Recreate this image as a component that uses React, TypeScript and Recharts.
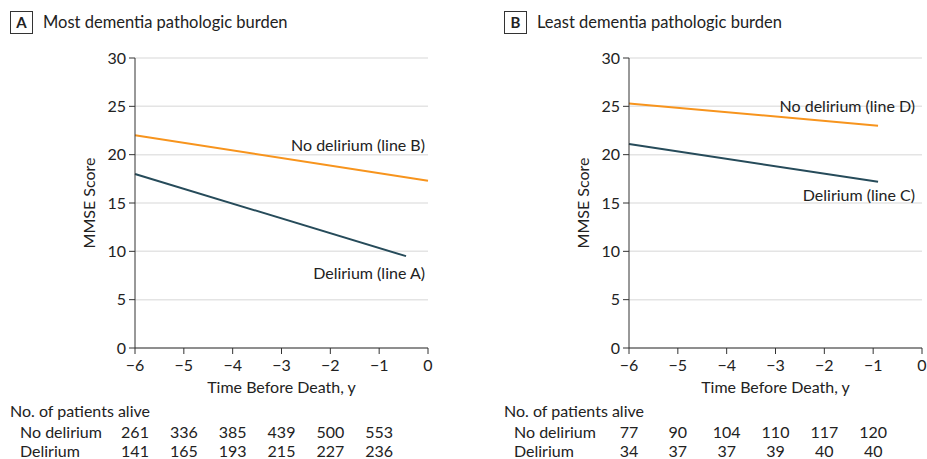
import React from 'react';
import { LineChart, Line, XAxis, YAxis, CartesianGrid } from 'recharts';

// x values (years before death)
const timeTicks = [-6, -5, -4, -3, -2, -1, 0];
const tableTicks = [-6, -5, -4, -3, -2, -1];
const scoreTicks = [0, 5, 10, 15, 20, 25, 30];

// Panel A: most dementia pathologic burden
const noDeliriumA = [{ t: -6, v: 22 }, { t: 0, v: 17.3 }];
const deliriumA = [{ t: -6, v: 18 }, { t: -0.45, v: 9.5 }];
const aliveNoDeliriumA = [261, 336, 385, 439, 500, 553];
const aliveDeliriumA = [141, 165, 193, 215, 227, 236];

// Panel B: least dementia pathologic burden
const noDeliriumB = [{ t: -6, v: 25.3 }, { t: -0.9, v: 23.0 }];
const deliriumB = [{ t: -6, v: 21.1 }, { t: -0.9, v: 17.2 }];
const aliveNoDeliriumB = [77, 90, 104, 110, 117, 120];
const aliveDeliriumB = [34, 37, 37, 39, 40, 40];

const ORANGE = '#f7941d';
const TEAL = '#264b5a';
const FONT = 'Lato, sans-serif';
const TEXT = '#222';
const FS = 16;

const endLabel = (text: string, last: number, dx: number, dy: number) => (props: any) => {
  if (props.index !== last) return null;
  return (
    <text x={props.x + dx} y={props.y + dy} textAnchor="end" dominantBaseline="central"
      fontSize={FS} fill={TEXT} fontFamily={FONT}>
      {text}
    </text>
  );
};

// x tick label plus the two "patients alive" counts under it
const TimeTick = (aliveNo: number[], aliveDel: number[]) => (props: any) => {
  const { x, y, payload } = props;
  const i = tableTicks.indexOf(payload.value);
  const common = { x, textAnchor: 'middle' as const, fontSize: FS, fill: TEXT, fontFamily: FONT };
  return (
    <g>
      <text {...common} y={y + 15}>{payload.value < 0 ? `\u2212${-payload.value}` : payload.value}</text>
      {i >= 0 && <text {...common} y={y + 82}>{aliveNo[i]}</text>}
      {i >= 0 && <text {...common} y={y + 101}>{aliveDel[i]}</text>}
    </g>
  );
};

type PanelProps = {
  letter: string;
  title: string;
  left: number;
  width: number;
  noDel: { t: number; v: number }[];
  del: { t: number; v: number }[];
  aliveNo: number[];
  aliveDel: number[];
  noDelLabel: string;
  delLabel: string;
  noDelOff: [number, number];
  delOff: [number, number];
};

function Panel(p: PanelProps) {
  const tickStyle = { fontSize: FS, fill: TEXT, fontFamily: FONT };
  const row = (top: number, left: number, text: string) => (
    <div style={{ position: 'absolute', left, top, fontSize: FS, lineHeight: '20px', whiteSpace: 'nowrap' }}>{text}</div>
  );
  return (
    <div style={{ position: 'absolute', left: p.left, top: 0, width: p.width, height: 459, fontFamily: FONT, color: TEXT }}>
      <div style={{ position: 'absolute', left: 10, top: 11, width: 21, height: 21, border: '1px solid #333',
        fontWeight: 700, fontSize: 15, textAlign: 'center', lineHeight: '21px' }}>{p.letter}</div>
      <div style={{ position: 'absolute', left: 43, top: 11, fontSize: 16.5, lineHeight: '22px', whiteSpace: 'nowrap' }}>{p.title}</div>
      {row(401, 10, 'No. of patients alive')}
      {row(422, 20, 'No delirium')}
      {row(441, 20, 'Delirium')}
      <LineChart width={p.width} height={459} margin={{ top: 58, right: p.width - 135 - 293, bottom: 0, left: 0 }}
        accessibilityLayer={false} style={{ position: 'absolute', left: 0, top: 0 }}>
        <CartesianGrid vertical={false} stroke="#e4e4e4" strokeWidth={1.5} />
        <XAxis type="number" dataKey="t" domain={[-6, 0]} ticks={timeTicks} height={111}
          allowDuplicatedCategory={false} stroke="#333" tick={TimeTick(p.aliveNo, p.aliveDel)} tickSize={6} tickMargin={2}
          label={{ value: 'Time Before Death, y', position: 'insideTop', offset: 34, fontSize: FS, fill: TEXT, fontFamily: FONT }} />
        <YAxis type="number" domain={[0, 30]} ticks={scoreTicks} width={135} stroke="#333" tick={tickStyle}
          tickSize={6} tickMargin={3} tickFormatter={(v: number) => String(v)}
          label={{ value: 'MMSE Score', angle: -90, position: 'center', dx: 22, fontSize: FS, fill: TEXT, fontFamily: FONT }} />
        <Line data={p.noDel} dataKey="v" stroke={ORANGE} strokeWidth={2} dot={false}
          isAnimationActive={false} label={endLabel(p.noDelLabel, p.noDel.length - 1, p.noDelOff[0], p.noDelOff[1])} />
        <Line data={p.del} dataKey="v" stroke={TEAL} strokeWidth={2} dot={false}
          isAnimationActive={false} label={endLabel(p.delLabel, p.del.length - 1, p.delOff[0], p.delOff[1])} />
      </LineChart>
    </div>
  );
}

export default function App() {
  return (
    <div style={{ position: 'absolute', left: 0, top: 0, width: 927, height: 459, background: '#fff' }}>
      <Panel letter="A" title="Most dementia pathologic burden" left={0} width={463}
        noDel={noDeliriumA} del={deliriumA} aliveNo={aliveNoDeliriumA} aliveDel={aliveDeliriumA}
        noDelLabel="No delirium (line B)" delLabel="Delirium (line A)" noDelOff={[-3, -36]} delOff={[19, 16]} />
      <Panel letter="B" title="Least dementia pathologic burden" left={494} width={433}
        noDel={noDeliriumB} del={deliriumB} aliveNo={aliveNoDeliriumB} aliveDel={aliveDeliriumB}
        noDelLabel="No delirium (line D)" delLabel="Delirium (line C)" noDelOff={[37, -20]} delOff={[37, 13]} />
    </div>
  );
}
